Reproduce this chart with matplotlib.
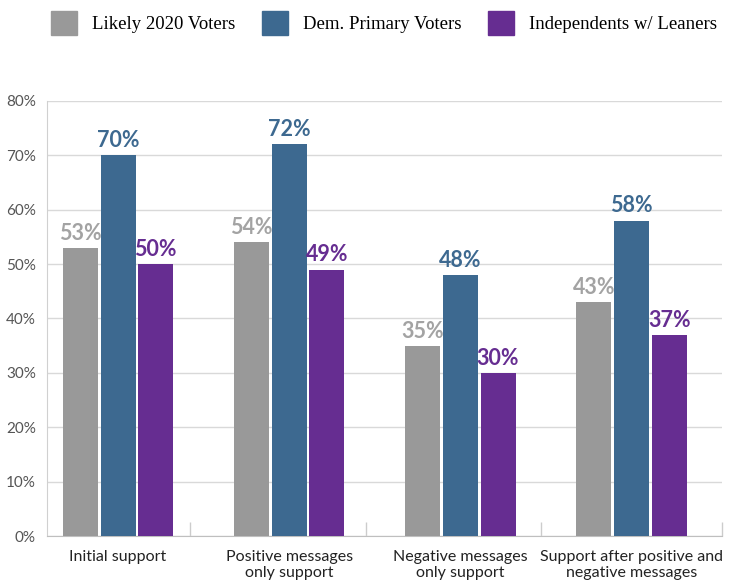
import numpy as np
import matplotlib.pyplot as plt
from matplotlib.patches import Patch

categories = ["Initial support", "Positive messages\nonly support",
              "Negative messages\nonly support", "Support after positive and\nnegative messages"]
series_names = ["Likely 2020 Voters", "Dem. Primary Voters", "Independents w/ Leaners"]
likely = [53, 54, 35, 43]
dem = [70, 72, 48, 58]
indep = [50, 49, 30, 37]

bar_colors = ["#999999", "#3d6990", "#662d91"]
label_colors = ["#a3a3a3", "#3d6990", "#662d91"]

fig = plt.figure(figsize=(7.38, 5.82), dpi=100)
ax = fig.add_axes([0.0637, 0.079, 0.915, 0.7475])

x = np.arange(len(categories))
width = 0.205
offsets = [-0.22, 0, 0.22]

for vals, off, c, lc in zip([likely, dem, indep], offsets, bar_colors, label_colors):
    bars = ax.bar(x + off, vals, width, color=c, zorder=3)
    for b, v in zip(bars, vals):
        ax.annotate(f"{v}%", (b.get_x() + b.get_width() / 2, v), xytext=(0, 3),
                    textcoords="offset points", ha="center", va="bottom",
                    fontsize=15.5, fontweight="bold", color=lc, family="Lato")

ax.set_ylim(0, 80)
ax.set_xlim(-0.415, 3.53)
ax.set_yticks(range(0, 81, 10))
ax.set_yticklabels([f"{t}%" for t in range(0, 81, 10)], family="Lato", fontsize=11, color="#555555")
ax.yaxis.grid(True, color="#d9d9d9", linewidth=1, zorder=0)
ax.tick_params(axis="y", length=0, pad=8)

ax.set_xticks(x)
ax.set_xticklabels(categories, family="Lato", fontsize=11.5, color="#222222")
ax.tick_params(axis="x", length=0, pad=10)
ax.set_xticks([0.42, 1.45, 2.47, 3.53], minor=True)
ax.tick_params(axis="x", which="minor", direction="in", length=10, color="#cccccc", width=1)

for s in ["top", "right"]:
    ax.spines[s].set_visible(False)
ax.spines["left"].set_color("#d0d0d0")
ax.spines["bottom"].set_color("#bfbfbf")

handles = [Patch(color=c) for c in bar_colors]
fig.legend(handles, series_names, loc="upper center", bbox_to_anchor=(0.52, 1.01), ncol=3,
           frameon=False, prop={"family": "Liberation Serif", "size": 13.5},
           handlelength=1.4, handleheight=1.6, columnspacing=1.4, handletextpad=0.8)

fig.savefig("out.png", dpi=100)
